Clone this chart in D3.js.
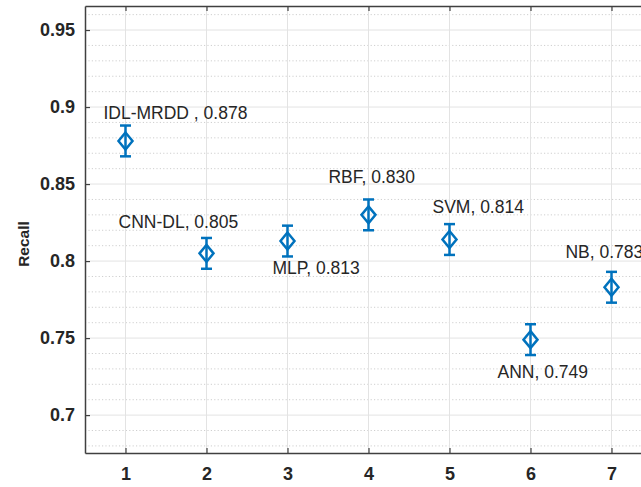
<!DOCTYPE html>
<html><head><meta charset="utf-8">
<script src="https://cdn.jsdelivr.net/npm/d3@7"></script>
<style>body{margin:0;background:#fff}svg{display:block}</style>
</head><body>
<svg id="c" width="641" height="487"></svg>
<script>
const methods = ["IDL-MRDD ", "CNN-DL", "MLP", "RBF", "SVM", "ANN", "NB"];
const xPos = [1, 2, 3, 4, 5, 6, 7];
const recall = [0.878, 0.805, 0.813, 0.830, 0.814, 0.749, 0.783];
const errLow = [0.010, 0.010, 0.010, 0.010, 0.010, 0.010, 0.010];
const errHigh = [0.010, 0.010, 0.010, 0.010, 0.010, 0.010, 0.010];
// text annotation anchor points in data coordinates (left, baseline)
const labelX = [0.728, 0.914, 2.815, 3.506, 4.79, 5.593, 6.432];
const labelY = [0.892, 0.8215, 0.7916, 0.8507, 0.8312, 0.724, 0.802];
const yTicks = [0.7, 0.75, 0.8, 0.85, 0.9, 0.95];
const yTickLabels = ["0.7", "0.75", "0.8", "0.85", "0.9", "0.95"];
const yMinor = d3.range(0.68, 0.961, 0.01).map(v => +v.toFixed(2));
const xDomain = [0.5, 7.5];
const yDomain = [0.6754, 0.9656];
const yTitle = "Recall";

const svg = d3.select("#c");
const L = 85, T = 6, R = 652, B = 453;
const x = d3.scaleLinear().domain(xDomain).range([L, R]);
const y = d3.scaleLinear().domain(yDomain).range([B, T]);
const blue = "#0072BD", axc = "#404040", txt = "#262626";

const g = svg.append("g");
// minor grid
g.selectAll(".mg").data(yMinor.filter(v => !yTicks.some(t => Math.abs(t - v) < 1e-6))).enter()
  .append("line").attr("x1", L).attr("x2", R).attr("y1", d => y(d)).attr("y2", d => y(d))
  .attr("stroke", "#cfcfcf").attr("stroke-width", 1).attr("stroke-dasharray", "1.2,2.2");
// major grid
g.selectAll(".yg").data(yTicks).enter().append("line")
  .attr("x1", L).attr("x2", R).attr("y1", d => y(d)).attr("y2", d => y(d))
  .attr("stroke", "#e3e3e3").attr("stroke-width", 1);
g.selectAll(".xg").data(xPos).enter().append("line")
  .attr("y1", T).attr("y2", B).attr("x1", d => x(d)).attr("x2", d => x(d))
  .attr("stroke", "#e3e3e3").attr("stroke-width", 1);

// axes
const yAxis = d3.axisLeft(y).tickValues(yTicks).tickFormat((d, i) => yTickLabels[i]).tickSizeInner(-5).tickSizeOuter(0).tickPadding(10);
const xAxis = d3.axisBottom(x).tickValues(xPos).tickFormat(d3.format("d")).tickSizeInner(-5).tickSizeOuter(0).tickPadding(14);
const ya = svg.append("g").attr("transform", `translate(${L},0)`).call(yAxis);
const xa = svg.append("g").attr("transform", `translate(0,${B})`).call(xAxis);
const xt = svg.append("g").attr("transform", `translate(0,${T})`).call(d3.axisTop(x).tickValues(xPos).tickFormat("").tickSizeInner(-5).tickSizeOuter(0));
[ya, xa, xt].forEach(a => {
  a.select(".domain").attr("stroke", axc).attr("stroke-width", 1.5);
  a.selectAll(".tick line").attr("stroke", axc).attr("stroke-width", 1.2);
  a.selectAll(".tick text").attr("fill", txt).attr("font-family", "Liberation Sans, Arial, sans-serif")
    .attr("font-size", 18).attr("font-weight", "bold");
});
xa.selectAll(".tick text").attr("dy", "0.71em");

svg.append("text").attr("transform", `translate(29,244) rotate(-90)`)
  .attr("text-anchor", "middle").attr("font-family", "Liberation Sans, Arial, sans-serif")
  .attr("font-size", 15.5).attr("font-weight", "bold").attr("fill", txt).text(yTitle);

// error bars
const data = xPos.map((xv, i) => ({x: xv, v: recall[i], lo: recall[i] - errLow[i], hi: recall[i] + errHigh[i], name: methods[i], lx: labelX[i], ly: labelY[i]}));
const eb = svg.append("g");
const cw = 5.5;
data.forEach(d => {
  const cx = x(d.x);
  eb.append("line").attr("x1", cx).attr("x2", cx).attr("y1", y(d.hi)).attr("y2", y(d.lo)).attr("stroke", blue).attr("stroke-width", 2.5);
  eb.append("line").attr("x1", cx - cw).attr("x2", cx + cw).attr("y1", y(d.hi)).attr("y2", y(d.hi)).attr("stroke", blue).attr("stroke-width", 2.5);
  eb.append("line").attr("x1", cx - cw).attr("x2", cx + cw).attr("y1", y(d.lo)).attr("y2", y(d.lo)).attr("stroke", blue).attr("stroke-width", 2.5);
  const cy = y(d.v), hw = 7, hh = 8.5;
  eb.append("path").attr("d", `M${cx},${cy - hh}L${cx + hw},${cy}L${cx},${cy + hh}L${cx - hw},${cy}Z`)
    .attr("fill", "none").attr("stroke", blue).attr("stroke-width", 2.5);
});

// annotations
svg.append("g").selectAll("text").data(data).enter().append("text")
  .attr("x", d => x(d.lx)).attr("y", d => y(d.ly))
  .attr("font-family", "Liberation Sans, Arial, sans-serif").attr("font-size", 17.5).attr("fill", txt)
  .text(d => `${d.name}, ${d.v.toFixed(3)}`);
</script>
</body></html>
